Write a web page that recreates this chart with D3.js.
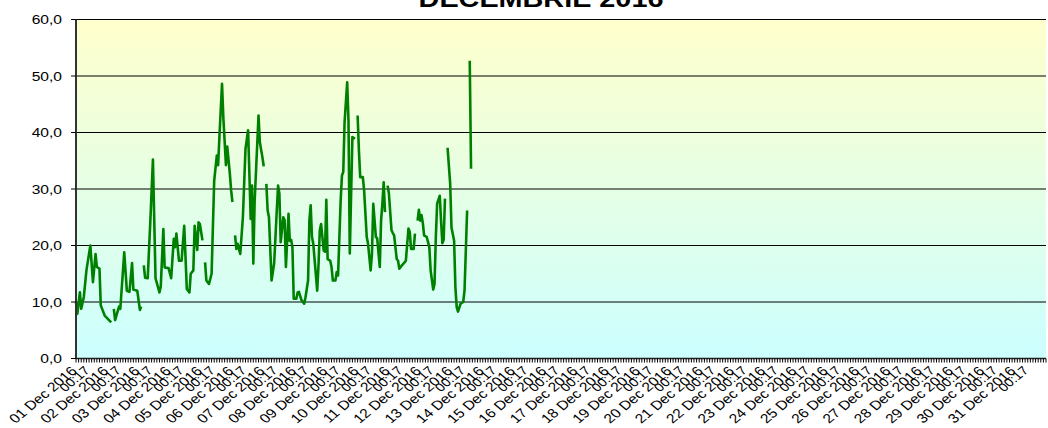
<!DOCTYPE html>
<html><head><meta charset="utf-8">
<script src="https://cdn.jsdelivr.net/npm/d3@7"></script>
<style>body{margin:0;background:#fff}svg{display:block}text{font-family:"Liberation Sans",Arial,sans-serif;fill:#000}</style>
</head><body><svg id="c" width="1048" height="428"></svg>
<script>
const title = "DECEMBRIE 2016";
const yTicks = [0, 10, 20, 30, 40, 50, 60];
const yTickLabels = ["0,0", "10,0", "20,0", "30,0", "40,0", "50,0", "60,0"];
const dayLabels = ["01 Dec 2016","02 Dec 2016","03 Dec 2016","04 Dec 2016","05 Dec 2016","06 Dec 2016","07 Dec 2016","08 Dec 2016","09 Dec 2016","10 Dec 2016","11 Dec 2016","12 Dec 2016","13 Dec 2016","14 Dec 2016","15 Dec 2016","16 Dec 2016","17 Dec 2016","18 Dec 2016","19 Dec 2016","20 Dec 2016","21 Dec 2016","22 Dec 2016","23 Dec 2016","24 Dec 2016","25 Dec 2016","26 Dec 2016","27 Dec 2016","28 Dec 2016","29 Dec 2016","30 Dec 2016","31 Dec 2016"];
const timeLabel = "00:17";
// hours since 01 Dec 2016 00:00 ; null value = gap in the record
const hours = [0,1,3,4,6,8,11,13,15,16,18,19,22,27,28,29,30,33,34,37,39,41,43,44,47,49,50,51,
52,53,55,57,59,61,64,65,67,68,71,73,75,76,77,79,81,83,84,85,87,88,90,91,93,94,95,97,98,
99,100,102,104,106,108,109,110,112,113,115,116,118,119,120,121,
122,123,124,126,128,130,132,134,135,136,137,140,141,143,144,145,
146,147,148,150,152,154,155,156,157,159,160,161,163,164,165,166,167,169,170,171,173,175,176,178,179,180,181,182,185,186,187,188,190,191,192,193,195,196,197,199,200,201,203,204,205,206,208,209,210,212,214,215,
216,217,218,220,221,223,224,226,227,228,230,231,233,234,235,236,237,238,
239,240,242,243,244,246,247,248,250,252,253,255,256,257,259,260,261,
262,263,264,265,266,267,269,271,272,274,275,276,277,279,280,281,282,283,284,
285,287,288,290,291,292,293,295,297,298,300,301,302,303];
const values = [10.0,7.9,11.7,8.8,10.9,15.6,20.0,13.5,18.5,16.2,15.9,9.4,7.6,6.4,null,8.8,6.8,9.2,8.8,18.8,12.0,11.8,16.9,12.2,12.0,8.6,9.2,null,
16.5,14.3,14.2,24.2,35.2,14.2,11.7,12.7,22.9,16.1,16.0,14.2,21.2,19.7,22.1,17.3,17.3,23.5,17.9,12.3,11.7,15.0,15.6,23.5,19.2,24.1,23.8,20.9,null,
17.0,13.8,13.2,15.0,31.5,35.9,34.2,39.2,48.6,42.7,34.2,37.5,32.7,29.7,27.7,null,
21.8,19.4,20.3,18.5,25.0,37.1,40.4,24.7,30.6,16.8,27.7,43.0,38.3,35.6,34.0,null,
30.9,26.2,25.0,13.8,16.9,26.2,30.6,29.2,20.6,25.0,24.5,16.2,25.6,20.8,21.0,19.7,10.6,10.6,11.7,11.8,10.3,9.7,10.8,13.8,24.4,27.1,21.5,20.3,12.0,16.5,22.7,23.8,19.1,18.9,28.1,17.6,17.3,16.2,13.8,13.8,15.3,14.7,28.0,32.4,33.0,41.8,48.9,42.1,18.6,39.2,38.9,null,
43.0,36.8,32.1,32.1,29.7,21.5,20.3,15.6,18.5,27.4,21.5,21.3,16.2,24.4,27.4,31.2,25.9,null,
30.6,29.2,22.7,22.2,21.8,17.6,17.3,15.9,16.5,17.0,17.3,23.0,22.4,19.4,19.4,22.1,null,
24.4,26.3,24.4,25.4,24.0,21.8,21.5,19.7,15.6,12.2,13.2,21.5,27.4,28.8,24.4,20.4,21.0,28.3,null,
37.3,30.9,23.2,20.9,12.6,9.1,8.3,9.7,10.0,12.0,26.2,null,52.7,33.6];

const startDate = new Date(Date.UTC(2016, 11, 1));
const endDate = new Date(Date.UTC(2017, 0, 1));
const L = 76, R = 1046, T = 19.5, B = 358.5;
const SX = 1.2;

const svg = d3.select("#c");
const x = d3.scaleUtc().domain([startDate, endDate]).range([L, R]);
const y = d3.scaleLinear().domain([0, 60]).range([B, T]);

const defs = svg.append("defs");
const grad = defs.append("linearGradient").attr("id", "bg").attr("x1", 0).attr("y1", 0).attr("x2", 0).attr("y2", 1);
grad.append("stop").attr("offset", "0%").attr("stop-color", "#FFFFCC");
grad.append("stop").attr("offset", "100%").attr("stop-color", "#CCFFFF");

svg.append("rect").attr("x", L).attr("y", y(60)).attr("width", R - L).attr("height", y(0) - y(60)).attr("fill", "url(#bg)");

// gridlines
svg.append("g").selectAll("line").data(yTicks.filter(d => d > 0)).join("line")
  .attr("x1", L).attr("x2", R).attr("y1", d => y(d)).attr("y2", d => y(d))
  .attr("stroke", "#000").attr("stroke-width", 1);

// data line
const data = hours.map((h, i) => ({ t: new Date(startDate.getTime() + h * 3600000), v: values[i] }));
const line = d3.line().defined(d => d.v != null).x(d => x(d.t)).y(d => y(d.v));
svg.append("path").datum(data).attr("d", line).attr("fill", "none")
  .attr("stroke", "#008000").attr("stroke-width", 2.6).attr("stroke-linejoin", "round");

// y axis
svg.append("line").attr("x1", L).attr("x2", L).attr("y1", y(60) - 0.5).attr("y2", y(0) + 0.5).attr("stroke", "#333").attr("stroke-width", 2);
svg.append("g").selectAll("line").data(yTicks).join("line")
  .attr("x1", L - 5).attr("x2", L).attr("y1", d => y(d)).attr("y2", d => y(d)).attr("stroke", "#000");
svg.append("g").selectAll("text").data(yTicks).join("text")
  .attr("transform", d => `translate(62,${y(d)}) scale(${SX},1)`)
  .attr("text-anchor", "end").attr("dy", "0.36em").attr("font-size", 13)
  .text((d, i) => yTickLabels[i]);

// x axis
svg.append("line").attr("x1", L).attr("x2", R).attr("y1", B).attr("y2", B).attr("stroke", "#222").attr("stroke-width", 1.5);
const minor = d3.utcHour.every(2).range(startDate, new Date(endDate.getTime() + 1));
svg.append("g").selectAll("line").data(minor).join("line")
  .attr("x1", d => x(d)).attr("x2", d => x(d)).attr("y1", B).attr("y2", B + 4)
  .attr("stroke", "#000").attr("stroke-width", 1);

const days = d3.utcDay.range(startDate, endDate);
const lab = svg.append("g").selectAll("g").data(days).join("g")
  .attr("transform", d => `translate(${x(d) + 2},372) scale(${SX},1) rotate(-45)`);
lab.append("text").attr("text-anchor", "end").attr("font-size", 13).text((d, i) => dayLabels[i]);
lab.append("text").attr("text-anchor", "end").attr("font-size", 12).attr("x", 8).attr("y", 7).text(timeLabel);

// title
svg.append("text").attr("transform", `translate(541,7) scale(${SX},1)`)
  .attr("text-anchor", "middle").attr("font-size", 24).attr("font-weight", "bold").text(title);
</script></body></html>
